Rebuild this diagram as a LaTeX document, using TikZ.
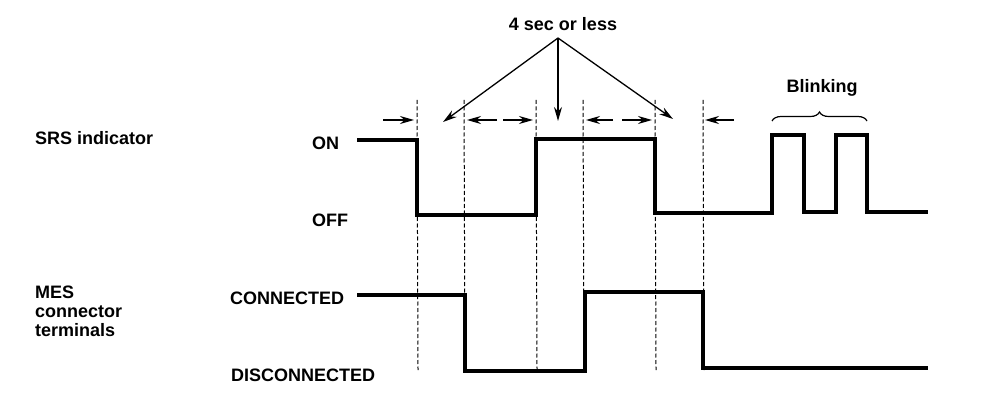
\documentclass[tikz,border=0pt]{standalone}
\usepackage{fontspec}
\setsansfont{Liberation Sans}
\usetikzlibrary{arrows.meta,decorations.pathreplacing}
\begin{document}
\begin{tikzpicture}[x=1pt, y=-1pt, >={Stealth[length=14pt,width=8pt]},
	lbl/.style={font=\sffamily\bfseries\fontsize{18}{20}\selectfont, inner sep=0pt},
	wave/.style={line width=3.2pt, line join=miter},
	guide/.style={line width=1pt, dash pattern=on 4pt off 2.5pt},
	dim/.style={->, line width=1.6pt}]
	\useasboundingbox (0,0) rectangle (992,414);
	
	% Signal names
	\node[lbl, anchor=west] (srs) at (35,138) {SRS indicator};
	\node[lbl, anchor=west, align=left] (mes) at (35,311) {MES\\[-1pt]connector\\[-1pt]terminals};
	
	% Levels
	\node[lbl, anchor=west] (on) at (312,143) {ON};
	\node[lbl, anchor=west] (off) at (312,220) {OFF};
	\node[lbl, anchor=west] (con) at (230,298) {CONNECTED};
	\node[lbl, anchor=west] (dis) at (231,375) {DISCONNECTED};
	
	% SRS indicator waveform
	\draw[wave] (357,140) -- (417,140) -- (417,215) -- (536,215) -- (536,139)
		-- (655,139) -- (655,213) -- (772,213) -- (772,135) -- (804,135)
		-- (804,212) -- (836,212) -- (836,135) -- (867,135) -- (867,212) -- (928,212);
	
	% MES connector waveform
	\draw[wave] (357,295) -- (465,295) -- (465,371) -- (585,371) -- (585,292)
		-- (703,292) -- (703,368) -- (928,368);
	
	% Time marks
	\foreach \x in {417,464,536,583,655,703}
		\draw[guide] (\x,100) -- (\x+1,370);
	
	% Interval arrows
	\draw[dim] (383,120) -- (414,120);
	\draw[dim] (497,120) -- (467,120);
	\draw[dim] (503,120) -- (533,120);
	\draw[dim] (613,120) -- (586,120);
	\draw[dim] (622,120) -- (652,120);
	\draw[dim] (734,120) -- (705,120);
	
	% Callout
	\node[lbl] (sec) at (563,24) {4 sec or less};
	\coordinate (apex) at (558,38);
	\coordinate (tl) at (443,122);
	\coordinate (tm) at (558,121);
	\coordinate (tr) at (673,119);
	\draw[->, line width=1.3pt] (apex) -- (tl);
	\draw[->, line width=1.3pt] (apex) -- (tm);
	\draw[->, line width=1.3pt] (apex) -- (tr);
	
	% Blinking
	\draw[line width=1.2pt, decorate, decoration={brace, amplitude=9pt, aspect=0.5}]
		(772,121) -- (867,121);
	\node[lbl] (blink) at (822,88) {Blinking};
\end{tikzpicture}
\end{document}
